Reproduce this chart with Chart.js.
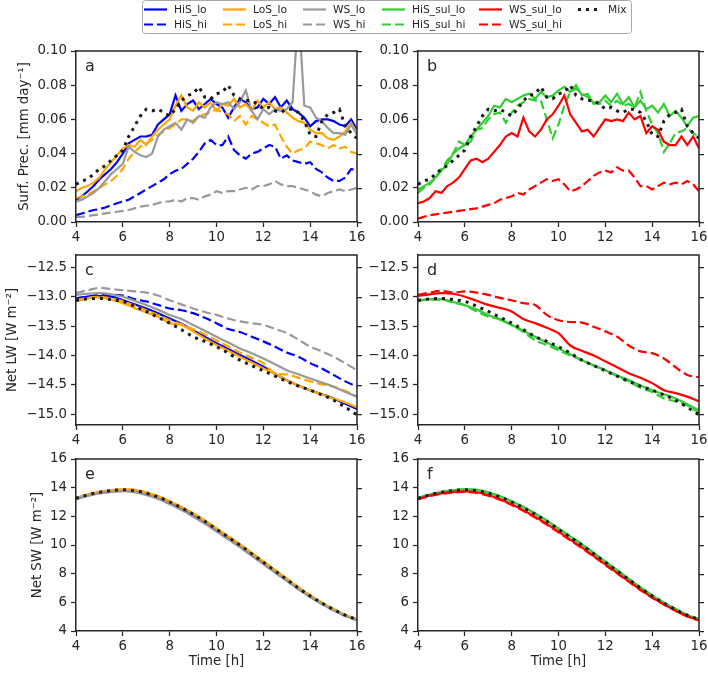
<!DOCTYPE html>
<html>
<head>
<meta charset="utf-8">
<script src="https://cdn.jsdelivr.net/npm/chart.js@4.4.0/dist/chart.umd.min.js"></script>
<style>
  body { margin: 0; background: #fff; }
  #wrap { position: relative; width: 708px; height: 674px; overflow: hidden; }
  #wrap canvas { position: absolute; }
</style>
</head>
<body>
<div id="wrap"></div>
<script>
// time axes [h]
const time = [4, 4.25, 4.5, 4.75, 5, 5.25, 5.5, 5.75, 6, 6.25, 6.5, 6.75, 7, 7.25, 7.5, 7.75,
  8, 8.25, 8.5, 8.75, 9, 9.25, 9.5, 9.75, 10, 10.25, 10.5, 10.75, 11, 11.25, 11.5, 11.75,
  12, 12.25, 12.5, 12.75, 13, 13.25, 13.5, 13.75, 14, 14.25, 14.5, 14.75, 15, 15.25, 15.5, 15.75, 16];
const timeHalf = [4, 4.5, 5, 5.5, 6, 6.5, 7, 7.5, 8, 8.5, 9, 9.5, 10, 10.5, 11, 11.5, 12, 12.5,
  13, 13.5, 14, 14.5, 15, 15.5, 16];

// surface precipitation [mm/day]
const prHiS_lo = [0.013, 0.015, 0.018, 0.021, 0.025, 0.028, 0.031, 0.035, 0.040, 0.046, 0.048, 0.050, 0.050, 0.051, 0.057, 0.060, 0.063, 0.074, 0.065, 0.069, 0.071, 0.066, 0.069, 0.072, 0.069, 0.067, 0.061, 0.067, 0.072, 0.070, 0.066, 0.067, 0.072, 0.069, 0.073, 0.067, 0.071, 0.066, 0.064, 0.061, 0.056, 0.059, 0.060, 0.060, 0.059, 0.057, 0.056, 0.060, 0.054];
const prHiS_hi = [0.004, 0.005, 0.006, 0.007, 0.0075, 0.0085, 0.0098, 0.011, 0.012, 0.013, 0.015, 0.017, 0.019, 0.021, 0.023, 0.025, 0.028, 0.030, 0.031, 0.034, 0.037, 0.041, 0.046, 0.048, 0.045, 0.045, 0.050, 0.042, 0.039, 0.037, 0.040, 0.041, 0.043, 0.045, 0.044, 0.037, 0.039, 0.036, 0.035, 0.034, 0.035, 0.031, 0.029, 0.026, 0.024, 0.024, 0.026, 0.031, 0.030];
const prLoS_lo = [0.018, 0.020, 0.021, 0.023, 0.026, 0.031, 0.035, 0.039, 0.043, 0.045, 0.044, 0.048, 0.045, 0.050, 0.054, 0.057, 0.060, 0.068, 0.074, 0.067, 0.065, 0.070, 0.067, 0.070, 0.065, 0.069, 0.068, 0.072, 0.067, 0.069, 0.065, 0.071, 0.067, 0.070, 0.066, 0.067, 0.064, 0.061, 0.059, 0.058, 0.054, 0.052, 0.052, 0.049, 0.048, 0.050, 0.053, 0.058, 0.052];
const prLoS_hi = [0.014, 0.015, 0.016, 0.018, 0.020, 0.022, 0.024, 0.027, 0.031, 0.037, 0.041, 0.044, 0.046, 0.048, 0.051, 0.053, 0.055, 0.057, 0.060, 0.060, 0.059, 0.062, 0.063, 0.064, 0.066, 0.064, 0.063, 0.059, 0.062, 0.057, 0.062, 0.060, 0.058, 0.056, 0.057, 0.050, 0.044, 0.040, 0.042, 0.043, 0.047, 0.046, 0.045, 0.043, 0.045, 0.043, 0.044, 0.041, 0.040];
const prWS_lo = [0.012, 0.013, 0.015, 0.017, 0.020, 0.024, 0.028, 0.031, 0.034, 0.044, 0.041, 0.039, 0.038, 0.040, 0.050, 0.054, 0.056, 0.058, 0.054, 0.060, 0.058, 0.062, 0.061, 0.067, 0.070, 0.069, 0.070, 0.066, 0.070, 0.077, 0.065, 0.060, 0.066, 0.063, 0.066, 0.065, 0.066, 0.070, 0.125, 0.068, 0.067, 0.061, 0.059, 0.055, 0.052, 0.052, 0.051, 0.057, 0.051];
const prWS_hi = [0.003, 0.003, 0.0035, 0.004, 0.0045, 0.005, 0.0055, 0.006, 0.0065, 0.007, 0.008, 0.009, 0.0095, 0.010, 0.011, 0.012, 0.012, 0.013, 0.012, 0.014, 0.014, 0.013, 0.015, 0.016, 0.018, 0.017, 0.018, 0.018, 0.019, 0.020, 0.019, 0.021, 0.021, 0.022, 0.024, 0.022, 0.021, 0.021, 0.020, 0.019, 0.018, 0.016, 0.015, 0.017, 0.018, 0.019, 0.018, 0.019, 0.020];
const prHiS_sul_lo = [0.019, 0.021, 0.023, 0.026, 0.030, 0.034, 0.040, 0.043, 0.045, 0.050, 0.054, 0.058, 0.062, 0.068, 0.067, 0.072, 0.070, 0.072, 0.074, 0.075, 0.072, 0.076, 0.073, 0.074, 0.077, 0.079, 0.076, 0.080, 0.074, 0.075, 0.069, 0.070, 0.074, 0.070, 0.075, 0.069, 0.073, 0.067, 0.071, 0.066, 0.068, 0.064, 0.069, 0.062, 0.065, 0.061, 0.056, 0.061, 0.062];
const prHiS_sul_hi = [0.017, 0.020, 0.022, 0.026, 0.031, 0.036, 0.040, 0.047, 0.045, 0.047, 0.054, 0.055, 0.060, 0.063, 0.064, 0.058, 0.064, 0.068, 0.070, 0.072, 0.071, 0.071, 0.060, 0.049, 0.057, 0.068, 0.076, 0.078, 0.075, 0.073, 0.070, 0.069, 0.071, 0.068, 0.071, 0.068, 0.069, 0.067, 0.076, 0.065, 0.057, 0.052, 0.041, 0.046, 0.052, 0.053, 0.055, 0.052, 0.050];
const prWS_sul_lo = [0.011, 0.012, 0.014, 0.018, 0.017, 0.021, 0.023, 0.026, 0.031, 0.036, 0.037, 0.035, 0.037, 0.041, 0.045, 0.050, 0.052, 0.050, 0.061, 0.053, 0.050, 0.054, 0.060, 0.063, 0.068, 0.074, 0.063, 0.058, 0.053, 0.054, 0.050, 0.055, 0.060, 0.059, 0.060, 0.059, 0.064, 0.060, 0.062, 0.052, 0.056, 0.054, 0.047, 0.045, 0.045, 0.050, 0.045, 0.050, 0.043];
const prWS_sul_hi = [0.002, 0.003, 0.004, 0.0045, 0.005, 0.0055, 0.006, 0.0065, 0.007, 0.0075, 0.008, 0.009, 0.010, 0.011, 0.013, 0.014, 0.015, 0.017, 0.016, 0.019, 0.021, 0.023, 0.025, 0.024, 0.025, 0.022, 0.018, 0.019, 0.021, 0.024, 0.027, 0.029, 0.030, 0.029, 0.032, 0.030, 0.030, 0.026, 0.021, 0.021, 0.019, 0.021, 0.023, 0.022, 0.023, 0.022, 0.024, 0.022, 0.018];
const prMix = [0.022, 0.024, 0.025, 0.028, 0.031, 0.033, 0.036, 0.039, 0.042, 0.050, 0.056, 0.062, 0.066, 0.065, 0.066, 0.064, 0.062, 0.066, 0.071, 0.074, 0.075, 0.079, 0.073, 0.072, 0.075, 0.076, 0.080, 0.074, 0.072, 0.071, 0.071, 0.069, 0.066, 0.067, 0.065, 0.064, 0.066, 0.066, 0.064, 0.059, 0.051, 0.050, 0.059, 0.063, 0.064, 0.066, 0.056, 0.052, 0.049];

// net longwave [W m-2], half-hourly
const lwHiS_lo = [-13.03, -13.00, -12.99, -13.00, -13.06, -13.13, -13.20, -13.28, -13.37, -13.46, -13.57, -13.68, -13.79, -13.89, -13.99, -14.09, -14.19, -14.31, -14.42, -14.51, -14.59, -14.66, -14.73, -14.82, -14.91];
const lwHiS_hi = [-13.03, -13.00, -12.97, -12.97, -12.98, -13.04, -13.08, -13.14, -13.20, -13.23, -13.28, -13.36, -13.45, -13.55, -13.60, -13.68, -13.76, -13.85, -13.95, -14.02, -14.13, -14.22, -14.33, -14.44, -14.53];
const lwLoS_lo = [-13.08, -13.03, -13.01, -13.05, -13.11, -13.19, -13.27, -13.34, -13.45, -13.48, -13.59, -13.71, -13.82, -13.92, -14.02, -14.12, -14.22, -14.31, -14.42, -14.51, -14.59, -14.66, -14.73, -14.80, -14.88];
const lwLoS_hi = [-13.06, -13.02, -13.00, -13.03, -13.08, -13.15, -13.23, -13.31, -13.40, -13.47, -13.55, -13.64, -13.74, -13.85, -13.95, -14.04, -14.13, -14.30, -14.32, -14.38, -14.44, -14.49, -14.53, -14.60, -14.70];
const lwWS_lo = [-12.97, -12.95, -12.94, -12.96, -13.00, -13.07, -13.14, -13.22, -13.31, -13.38, -13.48, -13.58, -13.68, -13.78, -13.88, -13.96, -14.05, -14.15, -14.25, -14.32, -14.39, -14.46, -14.53, -14.62, -14.70];
const lwWS_hi = [-12.94, -12.89, -12.85, -12.87, -12.89, -12.91, -12.93, -12.98, -13.06, -13.13, -13.20, -13.26, -13.31, -13.37, -13.42, -13.45, -13.48, -13.55, -13.62, -13.73, -13.85, -13.93, -14.02, -14.13, -14.25];
const lwHiS_sul_lo = [-13.06, -13.04, -13.04, -13.09, -13.14, -13.22, -13.31, -13.39, -13.48, -13.58, -13.68, -13.78, -13.88, -13.98, -14.08, -14.17, -14.25, -14.34, -14.42, -14.51, -14.59, -14.66, -14.73, -14.83, -14.93];
const lwHiS_sul_hi = [-13.07, -13.05, -13.05, -13.10, -13.15, -13.25, -13.34, -13.38, -13.48, -13.60, -13.74, -13.82, -13.91, -14.00, -14.08, -14.17, -14.25, -14.35, -14.44, -14.55, -14.62, -14.73, -14.78, -14.85, -14.98];
const lwWS_sul_lo = [-12.99, -12.96, -12.94, -12.95, -13.00, -13.07, -13.14, -13.19, -13.25, -13.38, -13.45, -13.53, -13.62, -13.83, -13.92, -14.00, -14.10, -14.20, -14.30, -14.38, -14.47, -14.59, -14.64, -14.70, -14.78];
const lwWS_sul_hi = [-12.97, -12.93, -12.90, -12.93, -12.91, -12.93, -12.97, -13.02, -13.06, -13.11, -13.14, -13.31, -13.40, -13.43, -13.44, -13.51, -13.59, -13.68, -13.83, -13.93, -13.96, -14.05, -14.20, -14.33, -14.37];
const lwMix = [-13.06, -13.04, -13.03, -13.05, -13.08, -13.16, -13.25, -13.35, -13.45, -13.56, -13.68, -13.76, -13.85, -13.96, -14.08, -14.17, -14.26, -14.35, -14.44, -14.52, -14.59, -14.67, -14.76, -14.88, -15.01];

// net shortwave [W m-2], half-hourly
const swMix = [13.25, 13.5, 13.68, 13.8, 13.85, 13.8, 13.62, 13.35, 13.0, 12.6, 12.15, 11.65, 11.1, 10.55, 10.0, 9.4, 8.8, 8.2, 7.6, 7.0, 6.45, 5.95, 5.5, 5.1, 4.8];
const swHiS = [13.25, 13.5, 13.67, 13.78, 13.83, 13.78, 13.59, 13.31, 12.95, 12.55, 12.1, 11.6, 11.05, 10.5, 9.95, 9.36, 8.76, 8.17, 7.57, 6.98, 6.43, 5.94, 5.49, 5.09, 4.8];
const swLoS = [13.27, 13.52, 13.7, 13.82, 13.88, 13.84, 13.67, 13.41, 13.06, 12.66, 12.21, 11.71, 11.16, 10.6, 10.05, 9.45, 8.85, 8.25, 7.65, 7.05, 6.49, 5.98, 5.53, 5.12, 4.82];
const swWS = [13.2, 13.43, 13.6, 13.71, 13.75, 13.69, 13.5, 13.22, 12.86, 12.45, 11.99, 11.49, 10.95, 10.4, 9.85, 9.26, 8.67, 8.08, 7.49, 6.91, 6.37, 5.88, 5.44, 5.05, 4.75];
const swHiS_sul = [13.27, 13.52, 13.7, 13.82, 13.88, 13.84, 13.67, 13.4, 13.05, 12.65, 12.2, 11.7, 11.15, 10.6, 10.05, 9.45, 8.85, 8.25, 7.64, 7.04, 6.49, 5.98, 5.53, 5.12, 4.82];
const swWS_sul_lo = [13.22, 13.44, 13.6, 13.7, 13.74, 13.68, 13.49, 13.2, 12.84, 12.43, 11.97, 11.47, 10.93, 10.38, 9.83, 9.24, 8.65, 8.06, 7.47, 6.89, 6.35, 5.86, 5.42, 5.03, 4.74];
const swWS_sul_hi = [13.2, 13.41, 13.57, 13.66, 13.7, 13.63, 13.44, 13.15, 12.79, 12.38, 11.92, 11.42, 10.88, 10.33, 9.78, 9.2, 8.61, 8.02, 7.44, 6.86, 6.32, 5.84, 5.41, 5.02, 4.73];

// tick labels
const xTicks = [4, 6, 8, 10, 12, 14, 16];
const prTicks = [0, 0.02, 0.04, 0.06, 0.08, 0.10];
const lwTicks = [-15.0, -14.5, -14.0, -13.5, -13.0, -12.5];
const swTicks = [4, 6, 8, 10, 12, 14, 16];

const ink = '#262626';
const family = "'DejaVu Sans', sans-serif";

const styles = {
  HiS_lo: ['#0000ff', 'solid'], HiS_hi: ['#0000ff', 'dash'],
  LoS_lo: ['#ffa500', 'solid'], LoS_hi: ['#ffa500', 'dash'],
  WS_lo: ['#999999', 'solid'], WS_hi: ['#999999', 'dash'],
  HiS_sul_lo: ['#32cd32', 'solid'], HiS_sul_hi: ['#32cd32', 'dash'],
  WS_sul_lo: ['#ff0000', 'solid'], WS_sul_hi: ['#ff0000', 'dash'],
  Mix: ['#1a1a1a', 'dot']
};
const kinds = {
  solid: { w: 2.2, dash: [] },
  dash: { w: 2.2, dash: [9, 4] },
  dot: { w: 3, dash: [3, 5] }
};

// draws top/right spines, right ticks and the panel letter
const framePlugin = {
  id: 'frame',
  afterDraw(chart, args, opts) {
    const { ctx, chartArea: a } = chart;
    const ys = chart.scales.y;
    ctx.save();
    ctx.strokeStyle = ink;
    ctx.lineWidth = 1.5;
    ctx.beginPath();
    ctx.moveTo(a.left, a.top);
    ctx.lineTo(a.right, a.top);
    ctx.lineTo(a.right, a.bottom);
    ctx.stroke();
    ctx.lineWidth = 1.25;
    ctx.beginPath();
    ys.ticks.forEach(t => {
      const p = Math.round(ys.getPixelForValue(t.value)) + 0.5;
      ctx.moveTo(a.right, p);
      ctx.lineTo(a.right + 5, p);
    });
    ctx.stroke();
    ctx.fillStyle = ink;
    ctx.font = '16px ' + family;
    ctx.textBaseline = 'alphabetic';
    ctx.fillText(opts.letter, a.left + 9, a.top + 19.5);
    ctx.restore();
  }
};

function makePanel(p) {
  const c = document.createElement('canvas');
  c.width = p.box[2];
  c.height = p.box[3];
  c.style.left = p.box[0] + 'px';
  c.style.top = p.box[1] + 'px';
  document.getElementById('wrap').appendChild(c);

  const yW = p.plot[0] - p.box[0];
  const padRight = p.box[0] + p.box[2] - p.plot[2];
  const padTop = p.plot[1] - p.box[1];
  const xH = p.box[1] + p.box[3] - p.plot[3];

  const datasets = p.lines.map(([name, ys], i) => {
    const [color, kind] = styles[name];
    const k = kinds[kind];
    return {
      label: name,
      data: ys.map((y, j) => ({ x: p.x[j], y: y })),
      borderColor: color,
      borderWidth: k.w,
      borderDash: k.dash,
      borderCapStyle: 'butt',
      pointRadius: 0,
      fill: false,
      tension: p.smooth ? 0.4 : 0,
      cubicInterpolationMode: p.smooth ? 'monotone' : 'default',
      clip: 0,
      order: -i
    };
  });

  new Chart(c, {
    type: 'line',
    data: { datasets: datasets },
    plugins: [framePlugin],
    options: {
      responsive: false,
      animation: false,
      devicePixelRatio: 1,
      events: [],
      layout: { padding: { left: 0, top: padTop, right: padRight, bottom: 0 } },
      plugins: {
        legend: { display: false },
        tooltip: { enabled: false },
        frame: { letter: p.letter }
      },
      scales: {
        x: {
          type: 'linear', min: 4, max: 16,
          afterBuildTicks: s => { s.ticks = xTicks.map(v => ({ value: v })); },
          afterFit: s => { s.height = xH; s.paddingLeft = 0; s.paddingRight = 0; },
          ticks: { color: ink, font: { family: family, size: 13.3 }, padding: 3, maxRotation: 0, autoSkip: false,
                   callback: v => String(v) },
          grid: { drawOnChartArea: false, drawTicks: true, tickLength: 5, tickWidth: 1.25, tickColor: ink, color: ink },
          border: { display: true, color: ink, width: 1.5, z: 1 },
          title: { display: !!p.xTitle, text: 'Time [h]', color: ink, font: { family: family, size: 13.3 },
                   padding: { top: 0, bottom: 4 } }
        },
        y: {
          type: 'linear', min: p.yMin, max: p.yMax,
          afterBuildTicks: s => { s.ticks = p.yTicks.map(v => ({ value: v })); },
          afterFit: s => { s.width = yW; s.paddingTop = 0; s.paddingBottom = 0; },
          ticks: { color: ink, font: { family: family, size: 13.3 }, padding: 4, autoSkip: false, callback: p.fmt },
          grid: { drawOnChartArea: false, drawTicks: true, tickLength: 5, tickWidth: 1.25, tickColor: ink, color: ink },
          border: { display: true, color: ink, width: 1.5, z: 1 },
          title: { display: !!p.yTitle, text: p.yTitle || '', color: ink, font: { family: family, size: 13.3 },
                   padding: { top: p.yTitlePad || 0, bottom: 0 } }
        }
      }
    }
  });
}

const fmtPr = v => v.toFixed(2);
const fmtLw = v => v.toFixed(1).replace('-', '\u2212');
const fmtSw = v => String(v);

const leftBox = [0, 370], rightBox = [364, 344];
const rowBox = [[36, 214], [245, 210], [448, 226]];
const cols = [[76, 357], [418, 699]];
const rows = [[51, 222], [255, 425], [459, 631]];

function geom(col, row) {
  const cb = col === 0 ? leftBox : rightBox;
  return {
    box: [cb[0], rowBox[row][0], cb[1], rowBox[row][1]],
    plot: [cols[col][0], rows[row][0], cols[col][1], rows[row][1]]
  };
}

makePanel(Object.assign(geom(0, 0), {
  letter: 'a', x: time, smooth: false, yMin: 0, yMax: 0.10, yTicks: prTicks, fmt: fmtPr,
  yTitle: 'Surf. Prec. [mm day\u207B\u00B9]', yTitlePad: 17,
  lines: [['HiS_lo', prHiS_lo], ['HiS_hi', prHiS_hi], ['LoS_lo', prLoS_lo], ['LoS_hi', prLoS_hi],
          ['WS_lo', prWS_lo], ['WS_hi', prWS_hi], ['Mix', prMix]]
}));
makePanel(Object.assign(geom(1, 0), {
  letter: 'b', x: time, smooth: false, yMin: 0, yMax: 0.10, yTicks: prTicks, fmt: fmtPr,
  lines: [['HiS_sul_lo', prHiS_sul_lo], ['HiS_sul_hi', prHiS_sul_hi], ['WS_sul_lo', prWS_sul_lo],
          ['WS_sul_hi', prWS_sul_hi], ['Mix', prMix]]
}));
makePanel(Object.assign(geom(0, 1), {
  letter: 'c', x: timeHalf, smooth: true, yMin: -15.182, yMax: -12.291, yTicks: lwTicks, fmt: fmtLw,
  yTitle: 'Net LW [W m\u207B\u00B2]', yTitlePad: 4.5,
  lines: [['HiS_lo', lwHiS_lo], ['HiS_hi', lwHiS_hi], ['LoS_lo', lwLoS_lo], ['LoS_hi', lwLoS_hi],
          ['WS_lo', lwWS_lo], ['WS_hi', lwWS_hi], ['Mix', lwMix]]
}));
makePanel(Object.assign(geom(1, 1), {
  letter: 'd', x: timeHalf, smooth: true, yMin: -15.182, yMax: -12.291, yTicks: lwTicks, fmt: fmtLw,
  lines: [['HiS_sul_lo', lwHiS_sul_lo], ['HiS_sul_hi', lwHiS_sul_hi], ['WS_sul_lo', lwWS_sul_lo],
          ['WS_sul_hi', lwWS_sul_hi], ['Mix', lwMix]]
}));
makePanel(Object.assign(geom(0, 2), {
  letter: 'e', x: timeHalf, smooth: true, yMin: 4, yMax: 16, yTicks: swTicks, fmt: fmtSw,
  yTitle: 'Net SW [W m\u207B\u00B2]', yTitlePad: 30, xTitle: true,
  lines: [['HiS_lo', swHiS], ['HiS_hi', swHiS], ['LoS_lo', swLoS], ['LoS_hi', swLoS],
          ['WS_lo', swWS], ['WS_hi', swWS], ['Mix', swMix]]
}));
makePanel(Object.assign(geom(1, 2), {
  letter: 'f', x: timeHalf, smooth: true, yMin: 4, yMax: 16, yTicks: swTicks, fmt: fmtSw, xTitle: true,
  lines: [['HiS_sul_lo', swHiS_sul], ['HiS_sul_hi', swHiS_sul], ['WS_sul_lo', swWS_sul_lo],
          ['WS_sul_hi', swWS_sul_hi], ['Mix', swMix]]
}));

// legend (matplotlib style, column-major, 6 columns)
(function drawLegend() {
  const c = document.createElement('canvas');
  c.width = 708; c.height = 38;
  c.style.left = '0px'; c.style.top = '0px';
  document.getElementById('wrap').appendChild(c);
  const ctx = c.getContext('2d');
  const x0 = 142.5, y0 = 0.5, x1 = 631.5, y1 = 33.5, r = 3;
  ctx.beginPath();
  ctx.moveTo(x0 + r, y0);
  ctx.lineTo(x1 - r, y0); ctx.arcTo(x1, y0, x1, y0 + r, r);
  ctx.lineTo(x1, y1 - r); ctx.arcTo(x1, y1, x1 - r, y1, r);
  ctx.lineTo(x0 + r, y1); ctx.arcTo(x0, y1, x0, y1 - r, r);
  ctx.lineTo(x0, y0 + r); ctx.arcTo(x0, y0, x0 + r, y0, r);
  ctx.closePath();
  ctx.fillStyle = '#ffffff';
  ctx.fill();
  ctx.strokeStyle = '#a8a8a8';
  ctx.lineWidth = 1;
  ctx.stroke();

  const items = [['HiS_lo', 0, 0], ['HiS_hi', 0, 1], ['LoS_lo', 1, 0], ['LoS_hi', 1, 1],
                 ['WS_lo', 2, 0], ['WS_hi', 2, 1], ['HiS_sul_lo', 3, 0], ['HiS_sul_hi', 3, 1],
                 ['WS_sul_lo', 4, 0], ['WS_sul_hi', 4, 1], ['Mix', 5, 0]];
  const colX = [144, 223, 303, 382, 479, 578];
  const rowY = [9.5, 24.5];
  ctx.font = '10.7px ' + family;
  ctx.textBaseline = 'middle';
  items.forEach(([name, ci, ri]) => {
    const [color, kind] = styles[name];
    const k = kinds[kind];
    const x = colX[ci], y = rowY[ri];
    ctx.save();
    ctx.strokeStyle = color;
    ctx.lineWidth = k.w;
    ctx.lineCap = 'butt';
    ctx.setLineDash(k.dash);
    ctx.beginPath();
    ctx.moveTo(x, y);
    ctx.lineTo(x + 23, y);
    ctx.stroke();
    ctx.restore();
    ctx.fillStyle = ink;
    ctx.fillText(name, x + 30, y + 0.5);
  });
})();
</script>
</body>
</html>
